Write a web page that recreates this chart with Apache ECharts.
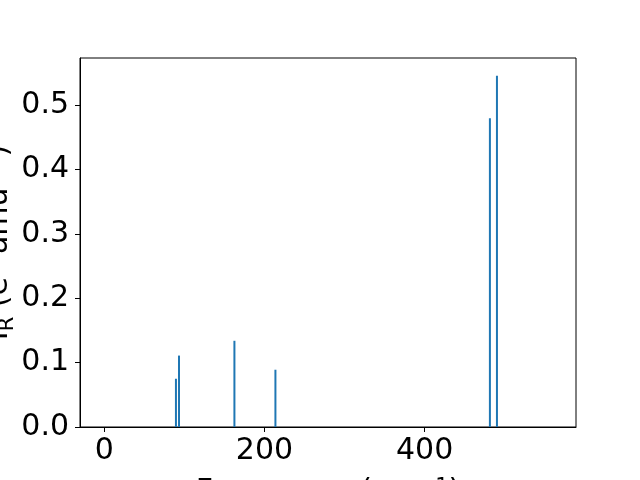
<!DOCTYPE html>
<html><head><meta charset="utf-8">
<script src="https://cdn.jsdelivr.net/npm/echarts@6/dist/echarts.min.js"></script>
<style>html,body{margin:0;padding:0;background:#fff}#c{width:640px;height:480px}</style>
</head><body><div id="c"></div>
<script>
const frequencies = [89.5, 93.3, 162.5, 213.7, 481.5, 490.3];
const intensities = [0.075, 0.111, 0.134, 0.089, 0.480, 0.546];
const xTicks = [0, 200, 400];
const yTicks = [0, 0.1, 0.2, 0.3, 0.4, 0.5];

const font = 'DejaVu Sans';
const chart = echarts.init(document.getElementById('c'), null, {renderer: 'canvas'});
chart.setOption({
  animation: false,
  grid: {left: 80, right: 64, top: 58, bottom: 53, containLabel: false, outerBoundsMode: 'none',
    show: true, borderColor: '#000', borderWidth: 1, backgroundColor: 'transparent'},
  xAxis: {
    type: 'value', min: -30.3, max: 589,
    name: 'Frequency (cm{sup|−1})', nameLocation: 'middle', nameGap: 50, nameMoveOverlap: false,
    nameTextStyle: {fontFamily: font, fontSize: 30, color: '#000',
      rich: {sup: {fontFamily: font, fontSize: 21, color: '#000', verticalAlign: 'top'}}},
    splitLine: {show: false},
    axisLine: {show: true, onZero: false, lineStyle: {color: '#000', width: 1}},
    axisTick: {show: true, length: 5, lineStyle: {color: '#000'}, customValues: xTicks},
    axisLabel: {fontFamily: font, fontSize: 30, color: '#000', margin: 9, customValues: xTicks}
  },
  yAxis: {
    type: 'value', min: 0, max: 0.5735,
    name: 'I{sub|R} (e{sup|2} amu{sup|−1})', nameLocation: 'middle', nameGap: 66, nameMoveOverlap: false,
    nameTextStyle: {fontFamily: font, fontSize: 30, color: '#000',
      rich: {
        sub: {fontFamily: font, fontSize: 21, color: '#000', verticalAlign: 'bottom', padding: [0,0,-4,0]},
        sup: {fontFamily: font, fontSize: 21, color: '#000', verticalAlign: 'top'}
      }},
    splitLine: {show: false},
    axisLine: {show: true, onZero: false, lineStyle: {color: '#000', width: 1}},
    axisTick: {show: true, length: 5, lineStyle: {color: '#000'}, customValues: yTicks},
    axisLabel: {fontFamily: font, fontSize: 30, color: '#000', margin: 11, customValues: yTicks,
      formatter: v => v.toFixed(1)}
  },
  series: [{
    type: 'bar',
    data: frequencies.map((f, i) => [f, intensities[i]]),
    barWidth: 2,
    itemStyle: {color: '#1f77b4'}
  }]
});
</script></body></html>
